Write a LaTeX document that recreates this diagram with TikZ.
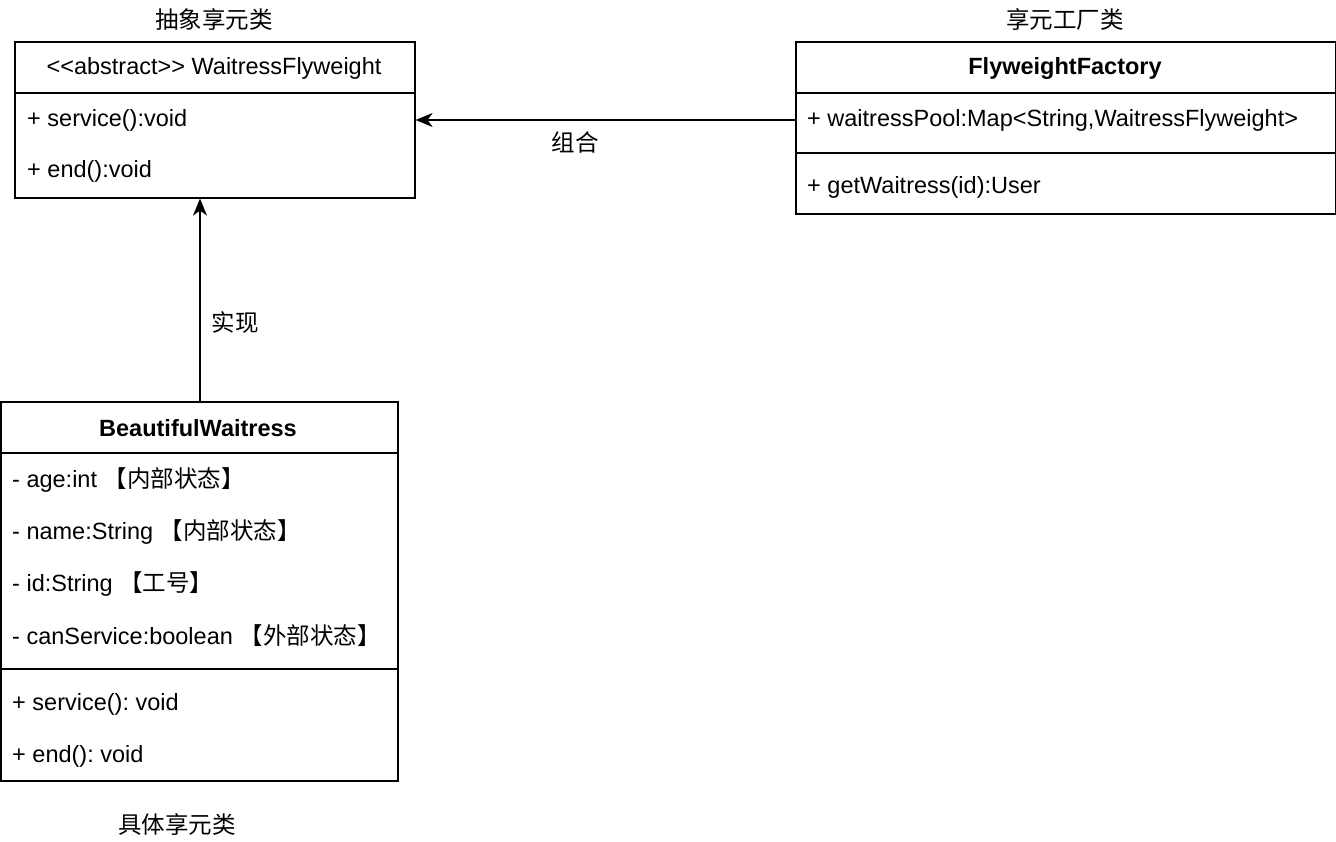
\documentclass[tikz,border=0pt]{standalone}
\usepackage{fontspec}
\setmainfont{Liberation Sans}
\newfontfamily\cjk{Noto Sans CJK SC}
\usetikzlibrary{arrows.meta}
\frenchspacing
\begin{document}
\begin{tikzpicture}[x=1pt,y=-1pt,
  box/.style={draw=black,line width=1.6pt,rectangle,anchor=north west,inner sep=0pt},
  sep/.style={line width=1.6pt},
  txt/.style={inner sep=0pt,anchor=west,font=\fontsize{23.5}{28}\selectfont},
  ctxt/.style={inner sep=0pt,anchor=center,font=\fontsize{23.5}{28}\selectfont},
  conn/.style={line width=1.6pt,-{Stealth[length=17pt,width=14pt,inset=5pt]}}]
\useasboundingbox (0,0) rectangle (1336,842);
% abstract class
\node[box,minimum width=400pt,minimum height=156pt] (abs) at (14,41) {};
\draw[sep] (abs.west |- 0,93) -- (abs.east |- 0,93);
\node[ctxt] (abstitle) at (214,68) {{<}{<}abstract{>}{>} WaitressFlyweight};
\node[txt] (abs1) at (27,120) {+ service():void};
\node[txt] (abs2) at (27,171) {+ end():void};
\node[ctxt] (abslabel) at (214,20) {\cjk 抽象享元类};
% factory
\node[box,minimum width=540pt,minimum height=172pt] (fac) at (795,41) {};
\draw[sep] (fac.west |- 0,93) -- (fac.east |- 0,93);
\draw[sep] (fac.west |- 0,153) -- (fac.east |- 0,153);
\node[ctxt] (factitle) at (1065,68) {\bfseries FlyweightFactory};
\node[txt] (fac1) at (807,120) {+ waitressPool:Map{<}String,WaitressFlyweight{>}};
\node[txt] (fac2) at (807,187) {+ getWaitress(id):User};
\node[ctxt] (faclabel) at (1065,20) {\cjk 享元工厂类};
% concrete
\node[box,minimum width=397pt,minimum height=379pt] (bw) at (0,401) {};
\draw[sep] (bw.west |- 0,453) -- (bw.east |- 0,453);
\draw[sep] (bw.west |- 0,669) -- (bw.east |- 0,669);
\node[ctxt] (bwtitle) at (198,428) {\bfseries BeautifulWaitress};
\node[txt] (bw1) at (12,480) {- age:int {\cjk 【内部状态】}};
\node[txt] (bw2) at (12,532) {- name:String {\cjk 【内部状态】}};
\node[txt] (bw3) at (12,584) {- id:String {\cjk 【工号】}};
\node[txt] (bw4) at (12,636) {- canService:boolean {\cjk 【外部状态】}};
\node[txt] (bw5) at (12,704) {+ service(): void};
\node[txt] (bw6) at (12,756) {+ end(): void};
\node[ctxt] (bwlabel) at (177,825) {\cjk 具体享元类};
% connectors
\draw[conn] (fac.west |- 0,120) -- (abs.east |- 0,120);
\node[ctxt] (zuhe) at (575,143) {\cjk 组合};
\draw[conn] (bw.north -| 200,0) -- (abs.south -| 200,0);
\node[ctxt] (shixian) at (235,323) {\cjk 实现};
\end{tikzpicture}
\end{document}
